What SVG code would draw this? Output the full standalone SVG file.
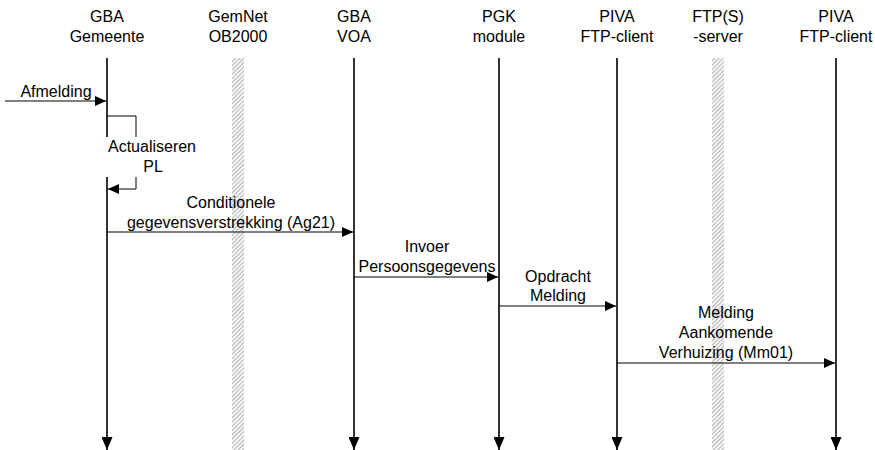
<svg xmlns="http://www.w3.org/2000/svg" width="875" height="450" viewBox="0 0 875 450">
<style>
text{font-family:"Liberation Sans",Arial,sans-serif;font-size:16px;fill:#000;text-anchor:middle}
.life{stroke:#000;stroke-width:1.6;fill:none}
.msg{stroke:#000;stroke-width:1;fill:none}
.hatch{fill:url(#hp)}
</style>
<defs>
<pattern id="hp" width="3" height="3" patternUnits="userSpaceOnUse" patternTransform="rotate(45)">
<rect width="3" height="3" fill="#ffffff"/>
<rect width="1.2" height="3" fill="#b4b4b4"/>
</pattern>
<marker id="ah" viewBox="0 0 11 10" refX="11" refY="5" markerWidth="11" markerHeight="10" markerUnits="userSpaceOnUse" orient="auto">
<path d="M0,0 L11,5 L0,10 Z" fill="#000"/>
</marker>
<marker id="ahb" viewBox="0 0 13 11" refX="13" refY="5.5" markerWidth="13" markerHeight="11" markerUnits="userSpaceOnUse" orient="auto">
<path d="M0,0 L13,5.5 L0,11 Z" fill="#000"/>
</marker>
</defs>
<g id="node-gba-gemeente">
<text x="107" y="22">GBA</text>
<text x="107" y="42">Gemeente</text>
<line class="life" x1="107" y1="58" x2="107" y2="450" marker-end="url(#ahb)"/>
</g>
<g id="node-gemnet">
<text x="238" y="22">GemNet</text>
<text x="238" y="42">OB2000</text>
<rect class="hatch" x="232" y="58" width="12" height="392"/>
</g>
<g id="node-gba-voa">
<text x="354" y="22">GBA</text>
<text x="354" y="42">VOA</text>
<line class="life" x1="354" y1="58" x2="354" y2="450" marker-end="url(#ahb)"/>
</g>
<g id="node-pgk">
<text x="499" y="22">PGK</text>
<text x="499" y="42">module</text>
<line class="life" x1="499" y1="58" x2="499" y2="450" marker-end="url(#ahb)"/>
</g>
<g id="node-piva1">
<text x="617" y="22">PIVA</text>
<text x="617" y="42">FTP-client</text>
<line class="life" x1="617" y1="58" x2="617" y2="450" marker-end="url(#ahb)"/>
</g>
<g id="node-ftps">
<text x="718" y="22">FTP(S)</text>
<text x="718" y="42">-server</text>
<rect class="hatch" x="712" y="58" width="12" height="392"/>
</g>
<g id="node-piva2">
<text x="836" y="22">PIVA</text>
<text x="836" y="42">FTP-client</text>
<line class="life" x1="836" y1="58" x2="836" y2="450" marker-end="url(#ahb)"/>
</g>
<g id="connectors">
<line class="msg" x1="5" y1="101" x2="106" y2="101" marker-end="url(#ah)"/>
<text x="56" y="97">Afmelding</text>
<polyline class="msg" points="107,116 136,116 136,189 108,189" marker-end="url(#ah)"/>
<rect x="104" y="137" width="96" height="40" fill="#fff"/>
<text x="152" y="152">Actualiseren</text>
<text x="153" y="172">PL</text>
<line class="msg" x1="107" y1="232" x2="353" y2="232" marker-end="url(#ah)"/>
<text x="231" y="208">Conditionele</text>
<text x="231" y="228">gegevensverstrekking (Ag21)</text>
<line class="msg" x1="354" y1="277" x2="498" y2="277" marker-end="url(#ah)"/>
<text x="427" y="252">Invoer</text>
<text x="427" y="272">Persoonsgegevens</text>
<line class="msg" x1="499" y1="306" x2="616" y2="306" marker-end="url(#ah)"/>
<text x="558" y="282">Opdracht</text>
<text x="558" y="301">Melding</text>
<line class="msg" x1="617" y1="363" x2="835" y2="363" marker-end="url(#ah)"/>
<text x="726" y="318">Melding</text>
<text x="726" y="338">Aankomende</text>
<text x="726" y="358">Verhuizing (Mm01)</text>
</g>
</svg>
